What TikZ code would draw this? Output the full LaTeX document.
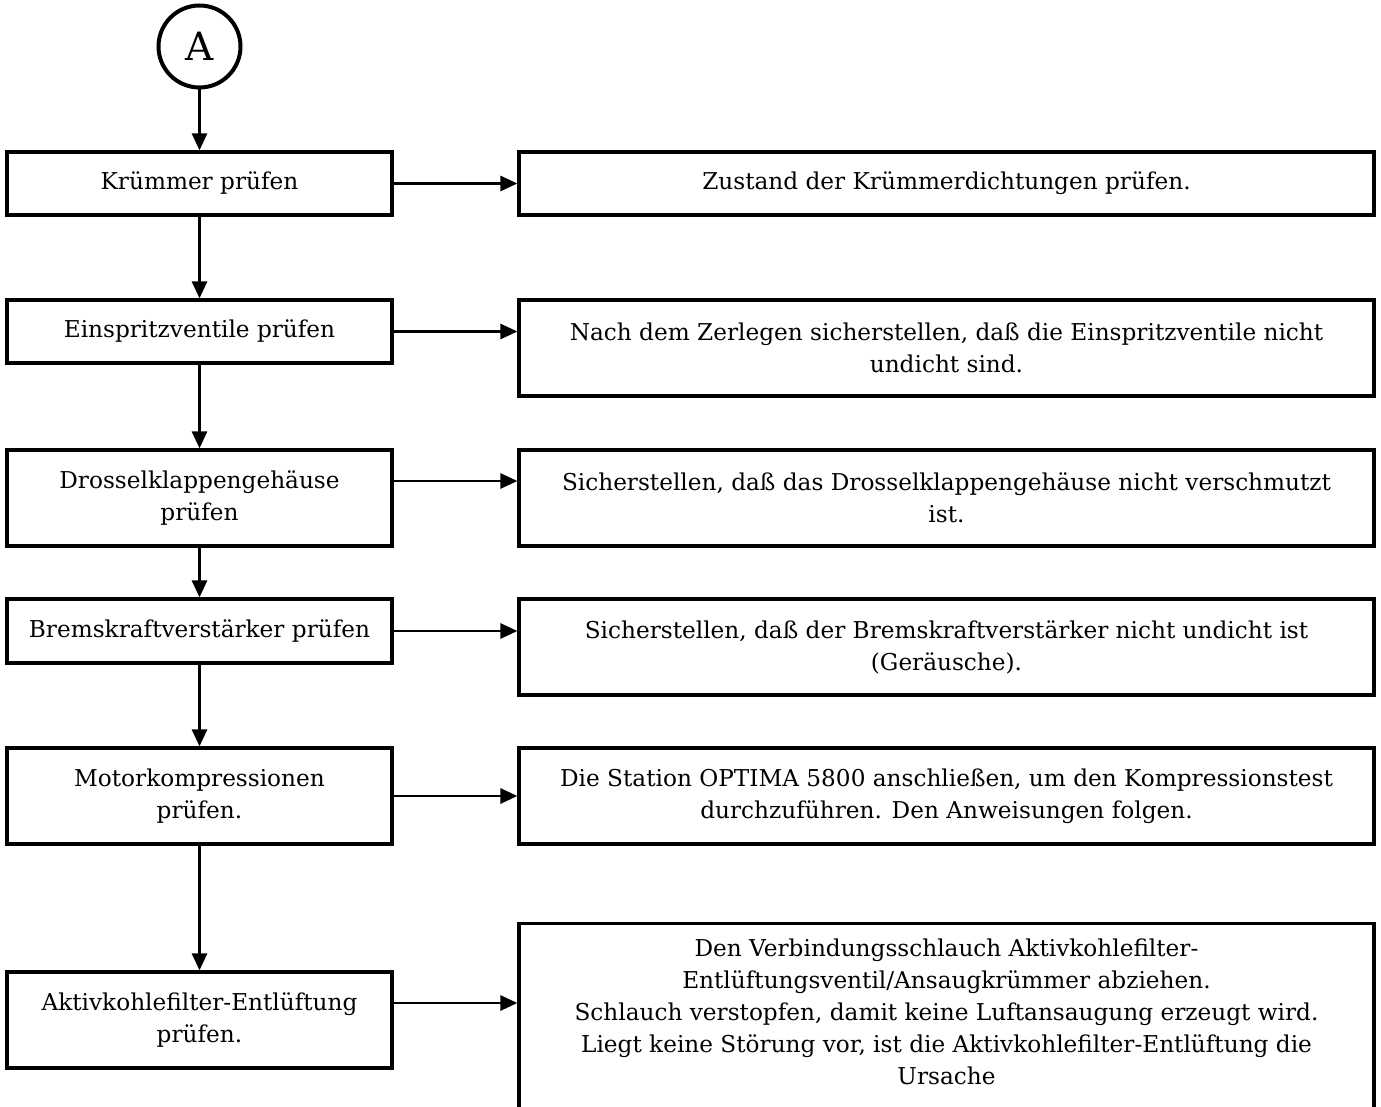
\documentclass[tikz,border=0pt]{standalone}
\usepackage{fontspec}
\setmainfont{DejaVu Serif}
\usetikzlibrary{arrows.meta}

\tikzset{
  stepnode/.style={draw, line width=3.2pt, align=center, inner sep=0pt,
    font=\fontsize{23.2}{32}\selectfont},
  leftbox/.style={stepnode, minimum width=385pt},
  rightbox/.style={stepnode, minimum width=855pt, minimum height=96pt},
  flow/.style={line width=2.8pt, -{Triangle[length=17pt,width=15pt]}}
}

\begin{document}
\begin{tikzpicture}[x=1pt,y=-1pt]
  \useasboundingbox (0,0) rectangle (1381,1107);
  \clip (0,0) rectangle (1381,1107);

  \node[draw, circle, line width=4pt, minimum size=82pt, inner sep=0pt,
    font=\fontsize{39}{44}\selectfont] (start) at (199.5,46.5) {A};

  % left column: checks
  \node[leftbox, minimum height=63pt] (l1) at (199.5,183.5) {Krümmer prüfen};
  \node[leftbox, minimum height=63pt] (l2) at (199.5,331.5) {Einspritzventile prüfen};
  \node[leftbox, minimum height=96pt] (l3) at (199.5,498) {Drosselklappengehäuse\\prüfen};
  \node[leftbox, minimum height=64pt] (l4) at (199.5,631) {Bremskraftverstärker prüfen};
  \node[leftbox, minimum height=96pt] (l5) at (199.5,796) {Motorkompressionen\\prüfen.};
  \node[leftbox, minimum height=96pt] (l6) at (199.5,1020) {Aktivkohlefilter-Entlüftung\\prüfen.};

  % right column: what to do
  \node[rightbox, minimum height=63pt] (r1) at (946.5,183.5) {Zustand der Krümmerdichtungen prüfen.};
  \node[rightbox] (r2) at (946.5,348) {Nach dem Zerlegen sicherstellen, daß die Einspritzventile nicht\\undicht sind.};
  \node[rightbox] (r3) at (946.5,498) {Sicherstellen, daß das Drosselklappengehäuse nicht verschmutzt\\ist.};
  \node[rightbox] (r4) at (946.5,647) {Sicherstellen, daß der Bremskraftverstärker nicht undicht ist\\(Geräusche).};
  \node[rightbox] (r5) at (946.5,796) {Die Station OPTIMA 5800 anschließen, um den Kompressionstest\\durchzuführen. Den Anweisungen folgen.};
  \node[rightbox, anchor=north, inner ysep=15pt, text depth=150pt] (r6) at (946.5,922)
    {Den Verbindungsschlauch Aktivkohlefilter-\\Entlüftungsventil/Ansaugkrümmer abziehen.\\Schlauch verstopfen, damit keine Luftansaugung erzeugt wird.\\Liegt keine Störung vor, ist die Aktivkohlefilter-Entlüftung die\\Ursache};

  % flow down
  \draw[flow] (start) -- (l1);
  \draw[flow] (l1) -- (l2);
  \draw[flow] (l2) -- (l3);
  \draw[flow] (l3) -- (l4);
  \draw[flow] (l4) -- (l5);
  \draw[flow] (l5) -- (l6);

  % flow across
  \draw[flow] (l1) -- (r1);
  \draw[flow] (l2.east) -- (l2.east -| r2.west);
  \draw[flow] ([yshift=17pt]l3.east) -- ([yshift=17pt]l3.east -| r3.west);
  \draw[flow] (l4.east) -- (l4.east -| r4.west);
  \draw[flow] (l5) -- (r5);
  \draw[flow] ([yshift=17pt]l6.east) -- ([yshift=17pt]l6.east -| r6.west);
\end{tikzpicture}
\end{document}
